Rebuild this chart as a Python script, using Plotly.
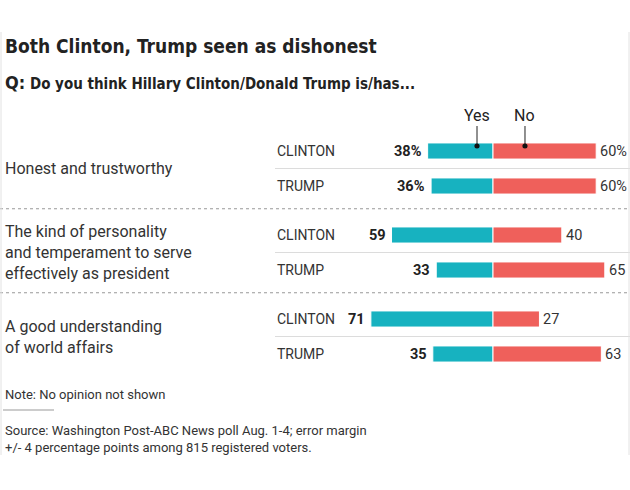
import plotly.graph_objects as go

questions = ["Honest and trustworthy",
             "The kind of personality<br>and temperament to serve<br>effectively as president",
             "A good understanding<br>of world affairs"]
candidates = ["CLINTON", "TRUMP"]
yes_vals = [[38, 36], [59, 33], [71, 35]]
no_vals = [[60, 60], [40, 65], [27, 63]]

TEAL = "#17b2c0"
CORAL = "#ef605b"
W, H = 630, 490
GROUP_STEP = 2.4

ys, yes_flat, no_flat, yes_txt, no_txt = [], [], [], [], []
for g in range(len(questions)):
    for m in range(len(candidates)):
        ys.append(g * GROUP_STEP + m)
        yes_flat.append(yes_vals[g][m])
        no_flat.append(no_vals[g][m])
        pct = "%" if g == 0 else ""
        yes_txt.append(f"{yes_vals[g][m]}{pct}")
        no_txt.append(f"{no_vals[g][m]}{pct}")

fig = go.Figure()
fig.add_trace(go.Bar(orientation="h", y=ys, x=[-v for v in yes_flat], width=0.46,
                     marker=dict(color=TEAL, line=dict(color="white", width=1)),
                     hoverinfo="skip"))
fig.add_trace(go.Bar(orientation="h", y=ys, x=no_flat, width=0.46,
                     marker=dict(color=CORAL, line=dict(color="white", width=1)),
                     hoverinfo="skip"))

BODY = "Roboto, Liberation Sans, Arial"
COND = "DejaVu Sans Condensed, Arial Narrow"

ann = []
shapes = []
for i, y in enumerate(ys):
    ann.append(dict(x=-yes_flat[i], y=y, xref="x", yref="y", text=f"<b>{yes_txt[i]}</b>",
                    showarrow=False, xanchor="right", xshift=-4,
                    font=dict(size=14.5, color="#222", family=BODY)))
    ann.append(dict(x=no_flat[i], y=y, xref="x", yref="y", text=no_txt[i],
                    showarrow=False, xanchor="left", xshift=2,
                    font=dict(size=14.5, color="#333", family=BODY)))
    ann.append(dict(x=275 / W, y=y, xref="paper", yref="y", text=candidates[i % 2],
                    showarrow=False, xanchor="left",
                    font=dict(size=14, color="#333", family=BODY)))

for g, q in enumerate(questions):
    ann.append(dict(x=3 / W, y=g * GROUP_STEP + 0.5, xref="paper", yref="y", text=q,
                    showarrow=False, xanchor="left", yanchor="middle", align="left",
                    font=dict(size=16, color="#333", family=BODY)))
    shapes.append(dict(type="line", xref="paper", yref="y", x0=275 / W, x1=1,
                       y0=g * GROUP_STEP + 0.5, y1=g * GROUP_STEP + 0.5,
                       line=dict(color="#dcdcdc", width=1)))
    if g < len(questions) - 1:
        yy = g * GROUP_STEP + 1.65
        shapes.append(dict(type="line", xref="paper", yref="y", x0=0, x1=1, y0=yy, y1=yy,
                           line=dict(color="#999", width=1, dash="dot")))

# Yes / No callouts
for lbl, xv in [("Yes", -9.3), ("No", 18.6)]:
    ann.append(dict(x=xv, y=1 - 116 / H, xref="x", yref="paper", text=lbl, showarrow=False,
                    xanchor="center", yanchor="middle",
                    font=dict(size=16, color="#222", family=BODY)))
    shapes.append(dict(type="line", xref="x", yref="paper", x0=xv, x1=xv,
                       y0=1 - 126 / H, y1=1 - 146 / H, line=dict(color="#222", width=1)))
    shapes.append(dict(type="circle", xref="x", yref="paper",
                       x0=xv - 1.5, x1=xv + 1.5, y0=1 - 143.5 / H, y1=1 - 148.5 / H,
                       fillcolor="#111", line=dict(width=0)))

ann.append(dict(x=3 / W, y=1 - 46 / H, xref="paper", yref="paper",
                text="<b>Both Clinton, Trump seen as dishonest</b>", showarrow=False,
                xanchor="left", yanchor="middle", font=dict(size=19, color="#222", family=COND)))
ann.append(dict(x=3 / W, y=1 - 82 / H, xref="paper", yref="paper",
                text="<b><span style='font-size:18px'>Q:</span> Do you think Hillary Clinton/Donald Trump is/has...</b>",
                showarrow=False, xanchor="left", yanchor="middle",
                font=dict(size=15, color="#222", family=COND)))
ann.append(dict(x=3 / W, y=1 - 394 / H, xref="paper", yref="paper",
                text="Note: No opinion not shown", showarrow=False,
                xanchor="left", yanchor="middle", font=dict(size=13, color="#333", family=BODY)))
ann.append(dict(x=3 / W, y=1 - 439 / H, xref="paper", yref="paper",
                text="Source: Washington Post-ABC News poll Aug. 1-4; error margin<br>+/- 4 percentage points among 815 registered voters.",
                showarrow=False, xanchor="left", yanchor="middle", align="left",
                font=dict(size=13, color="#333", family=BODY)))
shapes.append(dict(type="line", xref="paper", yref="paper", x0=3 / W, x1=54 / W,
                   y0=1 - 410 / H, y1=1 - 410 / H, line=dict(color="#999", width=1)))
# frame edges
for xp in [1 / W, 629 / W]:
    shapes.append(dict(type="line", xref="paper", yref="paper", x0=xp, x1=xp,
                       y0=1 - 32 / H, y1=1 - 455 / H, line=dict(color="#e2e2e2", width=1)))

PX_PER_UNIT = 1.72
CENTER_PX = 493
ROW_PX = 35
TOP_ROW_PX = 151

fig.update_layout(
    width=W, height=H, barmode="relative", showlegend=False,
    margin=dict(l=0, r=0, t=0, b=0),
    paper_bgcolor="white", plot_bgcolor="white",
    xaxis=dict(range=[-CENTER_PX / PX_PER_UNIT, (W - CENTER_PX) / PX_PER_UNIT],
               visible=False, fixedrange=True),
    yaxis=dict(range=[(H - TOP_ROW_PX) / ROW_PX, -TOP_ROW_PX / ROW_PX],
               visible=False, fixedrange=True),
    annotations=ann, shapes=shapes,
)
fig.write_html("out.html", config={"displayModeBar": False},
               post_script="document.body.style.margin='0';document.body.style.overflow='hidden';")
